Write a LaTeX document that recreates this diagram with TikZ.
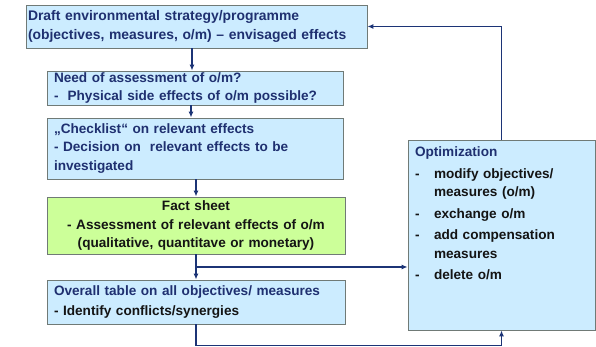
\documentclass[tikz,border=0pt]{standalone}
\usepackage{fontspec}
\setmainfont{Liberation Sans}
\usetikzlibrary{arrows.meta,calc}

\definecolor{boxblue}{RGB}{204,236,255}
\definecolor{boxgreen}{RGB}{204,255,153}
\definecolor{boxline}{RGB}{112,122,118}
\definecolor{navytext}{RGB}{31,48,112}
\definecolor{arrowblue}{RGB}{28,52,118}
\definecolor{bodytext}{RGB}{20,20,20}

\newcommand{\optitem}[1]{\hangindent=19pt\hangafter=1\makebox[19pt][l]{-}#1\par}

\tikzset{
    box/.style={draw=boxline, line width=0.8pt, fill=boxblue, rectangle, inner xsep=7pt, inner ysep=0pt,
        align=left, text=navytext, font=\fontsize{13.6}{18.5}\selectfont\bfseries},
    arr/.style={draw=arrowblue, line width=1.6pt, -{Latex[length=6pt,width=5pt]}},
}

\begin{document}
\begin{tikzpicture}[x=1pt, y=1pt]
                \useasboundingbox (0,0) rectangle (596,347);

                % Boites de gauche
                \node[box, inner xsep=2pt, text width=337, minimum height=43, font=\fontsize{13.9}{19}\selectfont\bfseries] (draft) at (196.5,320.5)
                    {Draft environmental strategy/programme\\(objectives, measures, o/m) -- envisaged effects};
                \node[box, text width=282, minimum height=34] (need) at (195,259)
                    {Need of assessment of o/m?\\-~~Physical side effects of o/m possible?};
                \node[box, text width=282, minimum height=61] (check) at (195,198.5)
                    {„Checklist“ on relevant effects\\- Decision on~ relevant effects to be\\investigated};
                \node[box, fill=boxgreen, text=bodytext, align=center, text width=284, minimum height=57] (fact) at (196,121.5)
                    {Fact sheet\\- Assessment of relevant effects of o/m\\(qualitative, quantitave or monetary)};
                \node[box, text width=284, minimum height=44] (overall) at (196,45)
                    {Overall table on all objectives/ measures\\[1.5pt]\textcolor{bodytext}{- Identify conflicts/synergies}};

                % Boite d'optimisation
                \node[box, text width=173, inner ysep=7pt] (opt) at (501.5,112)
                    {\parbox[t][176pt][t]{173pt}{\raggedright Optimization\par
                     \color{bodytext}\parskip=3pt
                     \optitem{modify objectives/\newline measures (o/m)}
                     \optitem{exchange o/m}
                     \optitem{add compensation\newline measures}
                     \optitem{delete o/m}}};

                % Fleches
                \draw[arr] ([xshift=-3pt]need.north |- draft.south) -- ([xshift=-3pt]need.north);
                \draw[arr] ([xshift=-4pt]need.south) -- ([xshift=-4pt]need.south |- check.north);
                \draw[arr] (check.south -| fact.north) -- (fact.north);
                \draw[arr] (fact) -- (overall);

                % Retour vers l'optimisation
                \coordinate (split) at ($(fact.south)!0.5!(overall.north)$);
                \draw[arr] (split) -- (split -| opt.west);
                \draw[arr] (overall.south) -- ++(0,-21) -| (opt.south);
                \draw[arr] (opt.north) |- (draft.east);

            \end{tikzpicture}
\end{document}
